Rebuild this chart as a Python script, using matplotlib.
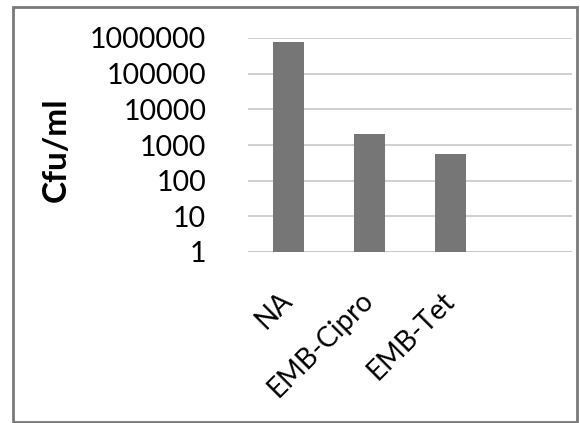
import numpy as np
import matplotlib
matplotlib.use("Agg")
import matplotlib.pyplot as plt
from matplotlib.patches import Rectangle
from matplotlib.ticker import FixedLocator, FixedFormatter, NullLocator

categories = ["NA", "EMB-Cipro", "EMB-Tet"]
cfu = [780000, 2000, 560]
yticks = [1, 10, 100, 1000, 10000, 100000, 1000000]
ytick_labels = ["1", "10", "100", "1000", "10000", "100000", "1000000"]

plt.rcParams['font.family'] = ['Lato', 'DejaVu Sans']

fig = plt.figure(figsize=(5.8, 4.23), dpi=100)
W, H = 580, 423
ax = fig.add_axes([248 / W, 1 - 252 / H, (572 - 248) / W, (252 - 38) / H])

x = np.arange(len(categories))
ax.bar(x, cfu, width=0.39, color='#767676', zorder=3)

ax.set_yscale('log')
ax.set_ylim(1, 1000000)
ax.set_xlim(-0.5, 3.5)
ax.yaxis.set_major_locator(FixedLocator(yticks))
ax.yaxis.set_major_formatter(FixedFormatter(ytick_labels))
ax.yaxis.set_minor_locator(NullLocator())
ax.grid(axis='y', color='#c8c8c8', linewidth=1.2, zorder=0)
ax.tick_params(axis='y', length=0, labelsize=20.5, pad=30)
ax.tick_params(axis='x', length=0, labelsize=20, pad=32)
for s in ax.spines.values():
    s.set_visible(False)
ax.axhline(1, color='#c8c8c8', linewidth=1.2, zorder=1)

ax.set_xticks(x)
ax.set_xticklabels(categories, rotation=45, ha='right', va='center',
                   rotation_mode='anchor')

ax.set_ylabel('Cfu/ml', fontsize=24, fontweight='bold')
ax.yaxis.set_label_coords(-(248 - 71) / (572 - 248), 0.48)

# outer chart frame
fig.patches.append(Rectangle((13 / W, 1 / H), (577 - 13) / W, (415) / H,
                             transform=fig.transFigure, fill=False,
                             edgecolor='#7a7a7a', linewidth=2))

fig.savefig('out.png', dpi=100)
